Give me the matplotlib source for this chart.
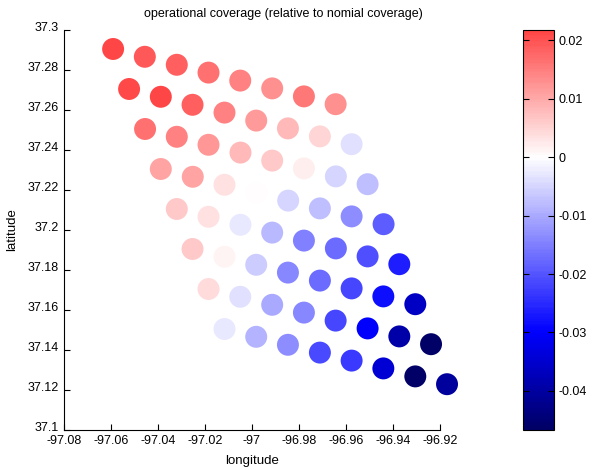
import matplotlib
matplotlib.use("Agg")
import matplotlib.pyplot as plt
import matplotlib.transforms as mtransforms
import numpy as np
from matplotlib.colors import LinearSegmentedColormap, ListedColormap
from matplotlib.ticker import FuncFormatter

# station grid, one list per diagonal row (west -> east)
lon_rows = [
    [-97.0591, -97.0456, -97.0320, -97.0185, -97.0050, -96.9914, -96.9779, -96.9644],
    [-97.0523, -97.0388, -97.0253, -97.0117, -96.9982, -96.9847, -96.9711, -96.9576],
    [-97.0455, -97.0320, -97.0185, -97.0049, -96.9914, -96.9779, -96.9643, -96.9508],
    [-97.0388, -97.0252, -97.0117, -96.9982, -96.9846, -96.9711, -96.9576, -96.9440],
    [-97.0320, -97.0185, -97.0049, -96.9914, -96.9779, -96.9643, -96.9508, -96.9373],
    [-97.0253, -97.0117, -96.9982, -96.9847, -96.9711, -96.9576, -96.9441, -96.9305],
    [-97.0185, -97.0050, -96.9914, -96.9779, -96.9644, -96.9508, -96.9373, -96.9238],
    [-97.0117, -96.9982, -96.9847, -96.9711, -96.9576, -96.9441, -96.9305, -96.9170],
]
lat_rows = [
    [37.2905, 37.2866, 37.2826, 37.2787, 37.2747, 37.2708, 37.2668, 37.2629],
    [37.2705, 37.2666, 37.2626, 37.2587, 37.2547, 37.2508, 37.2468, 37.2429],
    [37.2505, 37.2466, 37.2426, 37.2387, 37.2347, 37.2308, 37.2268, 37.2229],
    [37.2305, 37.2266, 37.2226, 37.2187, 37.2147, 37.2108, 37.2068, 37.2029],
    [37.2105, 37.2066, 37.2026, 37.1987, 37.1947, 37.1908, 37.1868, 37.1829],
    [37.1905, 37.1866, 37.1826, 37.1787, 37.1747, 37.1708, 37.1668, 37.1629],
    [37.1705, 37.1666, 37.1626, 37.1587, 37.1547, 37.1508, 37.1468, 37.1429],
    [37.1505, 37.1466, 37.1426, 37.1387, 37.1347, 37.1308, 37.1268, 37.1229],
]
# operational coverage relative to nominal coverage
cov_rows = [
    [0.0218, 0.0194, 0.0188, 0.0165, 0.0147, 0.0129, 0.0159, 0.0129],
    [0.0212, 0.0217, 0.0188, 0.0147, 0.0118, 0.0082, 0.0047, -0.0035],
    [0.0165, 0.0147, 0.0124, 0.0082, 0.0065, 0.0018, -0.0047, -0.0076],
    [0.0106, 0.0106, 0.0035, 0.0000, -0.0047, -0.0076, -0.0135, -0.0194],
    [0.0065, 0.0035, -0.0029, -0.0082, -0.0147, -0.0171, -0.0206, -0.0265],
    [0.0065, 0.0012, -0.0059, -0.0141, -0.0171, -0.0218, -0.0282, -0.0362],
    [0.0041, -0.0035, -0.0100, -0.0141, -0.0218, -0.0300, -0.0390, -0.0464],
    [-0.0029, -0.0088, -0.0135, -0.0212, -0.0230, -0.0345, -0.0467, -0.0407],
]

lon = np.ravel(lon_rows)
lat = np.ravel(lat_rows)
cov = np.ravel(cov_rows)
vmin, vmax = cov.min(), cov.max()

# blue-white-red map centred on zero, cut to the data range
lim = max(abs(vmin), abs(vmax))
full = LinearSegmentedColormap.from_list("bwr_zero", [
    (0.0, (0.0, 0.0, 0.40)),
    (0.5 - 0.03 / (2 * lim), (0.0, 0.0, 1.0)),
    (0.5, (1.0, 1.0, 1.0)),
    (0.5 + 0.03 / (2 * lim), (1.0, 0.0, 0.0)),
    (1.0, (0.40, 0.0, 0.0)),
])
levels = np.linspace(vmin, vmax, 256)
cmap = ListedColormap(full((levels + lim) / (2 * lim)))

plt.rcParams["font.family"] = ["Liberation Sans", "DejaVu Sans"]
plt.rcParams["font.size"] = 9

fig = plt.figure(figsize=(5.92, 4.70), dpi=100)
ax = fig.add_axes([0.1081, 0.0851, 0.6351, 0.8511])
cax = fig.add_axes([0.8834, 0.0851, 0.0524, 0.8511])

sc = ax.scatter(lon, lat, c=cov, cmap=cmap, vmin=vmin, vmax=vmax,
                s=250, edgecolors="none", clip_on=False)

ax.set_xlim(-97.08, -96.92)
ax.set_ylim(37.1, 37.3)
ax.set_xticks(np.arange(-97.08, -96.919, 0.02))
ax.set_yticks(np.arange(37.1, 37.301, 0.02))
fmt = FuncFormatter(lambda v, p: "%g" % round(v, 4))
ax.xaxis.set_major_formatter(fmt)
ax.yaxis.set_major_formatter(fmt)
ax.spines["top"].set_visible(False)
ax.spines["right"].set_visible(False)
ax.tick_params(direction="in", length=4, width=0.8)
ax.set_xlabel("longitude", fontsize=9.5, labelpad=6)
ax.set_ylabel("latitude", fontsize=9.5, labelpad=7)
fig.text(283 / 592, 1 - 14 / 470, "operational coverage (relative to nomial coverage)",
         ha="center", va="center", fontsize=9)

# lift the latitude labels a touch so 37.1 clears -97.08
lift = mtransforms.ScaledTranslation(0, 2.5 / 72, fig.dpi_scale_trans)
for lbl in ax.get_yticklabels():
    lbl.set_transform(lbl.get_transform() + lift)

cb = fig.colorbar(sc, cax=cax)
cb.set_ticks([-0.04, -0.03, -0.02, -0.01, 0, 0.01, 0.02])
cb.ax.yaxis.set_major_formatter(FuncFormatter(lambda v, p: "%g" % round(v, 4)))
cb.ax.tick_params(direction="in", length=4, width=0.8, left=True, right=True)
cb.outline.set_linewidth(0.8)

fig.savefig("out.png", dpi=100)
